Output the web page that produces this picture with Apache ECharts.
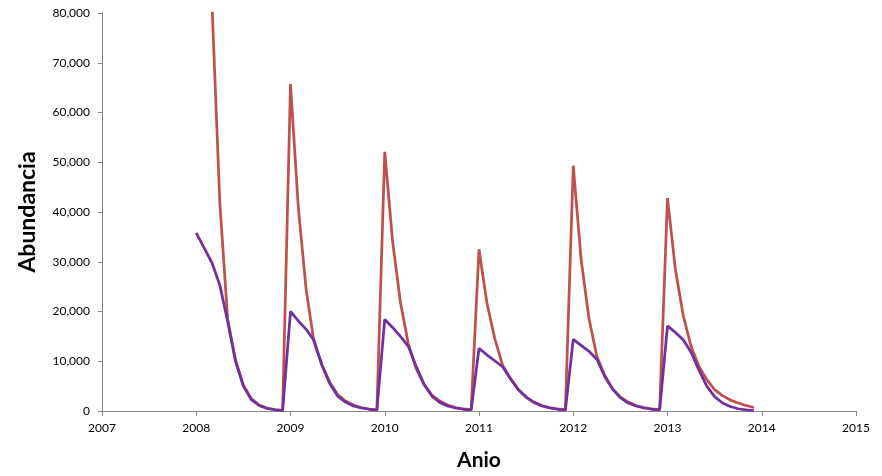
<!DOCTYPE html>
<html>
<head>
<meta charset="utf-8">
<script src="https://cdn.jsdelivr.net/npm/echarts@6/dist/echarts.min.js"></script>
<style>
html,body{margin:0;padding:0;background:#fff;}
#chart{width:882px;height:476px;}
</style>
</head>
<body>
<div id="chart"></div>
<script>
// Monthly values, January 2008 to December 2013
const startYear = 2008;
const redValues = [
  160000, 120000, 82000, 41900, 18500, 10200, 5200, 2500, 1200, 600, 300, 150,
  65700, 40800, 24300, 13800, 9300, 5800, 3300, 2000, 1200, 700, 400, 250,
  52100, 34100, 21800, 13500, 8500, 5300, 3200, 2000, 1200, 700, 450, 300,
  32500, 21800, 14600, 9200, 6600, 4300, 2800, 1800, 1100, 700, 450, 300,
  49300, 30500, 18600, 11000, 7200, 4500, 2800, 1800, 1100, 700, 450, 300,
  42800, 28500, 19200, 13000, 9000, 6300, 4300, 3100, 2200, 1600, 1100, 700
];
const purpleValues = [
  35800, 32800, 29800, 25300, 18000, 10000, 5000, 2300, 1100, 500, 250, 100,
  20000, 18100, 16400, 14200, 9200, 5500, 3000, 1800, 1000, 600, 350, 200,
  18400, 16800, 15000, 13000, 9000, 5400, 3000, 1700, 1000, 600, 350, 200,
  12600, 11300, 10100, 8900, 6500, 4300, 2800, 1700, 1000, 600, 350, 200,
  14400, 13200, 12000, 10400, 7000, 4400, 2700, 1600, 1000, 600, 350, 200,
  17100, 15800, 14300, 11800, 8200, 5000, 2900, 1600, 900, 450, 220, 100
];
const xTickMin = 2007, xTickMax = 2015, xTickStep = 1;
const yTickMin = 0, yTickMax = 80000, yTickStep = 10000;

function toPoints(vals){
  return vals.map((v, i) => [startYear + i / 12, v]);
}

const chart = echarts.init(document.getElementById('chart'));
const axisGray = '#868686';
chart.setOption({
  animation: false,
  grid: {left: 102, right: 26, top: 13, bottom: 64},
  xAxis: {
    type: 'value', min: xTickMin, max: xTickMax, interval: xTickStep,
    name: 'Anio', nameLocation: 'middle', nameGap: 39,
    nameTextStyle: {fontFamily: 'Lato', fontWeight: 'bold', fontSize: 21, color: '#000'},
    axisLine: {show: true, lineStyle: {color: axisGray, width: 1}},
    axisTick: {show: true, length: 5, lineStyle: {color: axisGray}},
    axisLabel: {fontFamily: 'Lato', fontSize: 12, color: '#000', margin: 11, formatter: v => String(v)},
    splitLine: {show: false}
  },
  yAxis: {
    type: 'value', min: yTickMin, max: yTickMax, interval: yTickStep,
    name: 'Abundancia', nameLocation: 'middle', nameGap: 63,
    nameTextStyle: {fontFamily: 'Lato', fontWeight: 'bold', fontSize: 23, color: '#000'},
    axisLine: {show: true, lineStyle: {color: axisGray, width: 1}},
    axisTick: {show: true, length: 4, lineStyle: {color: axisGray}},
    axisLabel: {fontFamily: 'Lato', fontSize: 12, color: '#000', margin: 12,
      formatter: v => v.toLocaleString('en-US')},
    splitLine: {show: false}
  },
  series: [
    {type: 'line', data: toPoints(redValues), showSymbol: false, clip: true,
     lineStyle: {color: '#C0504D', width: 2.75}, itemStyle: {color: '#C0504D'}},
    {type: 'line', data: toPoints(purpleValues), showSymbol: false, clip: true,
     lineStyle: {color: '#7030A0', width: 2.75}, itemStyle: {color: '#7030A0'}}
  ]
});
</script>
</body>
</html>
